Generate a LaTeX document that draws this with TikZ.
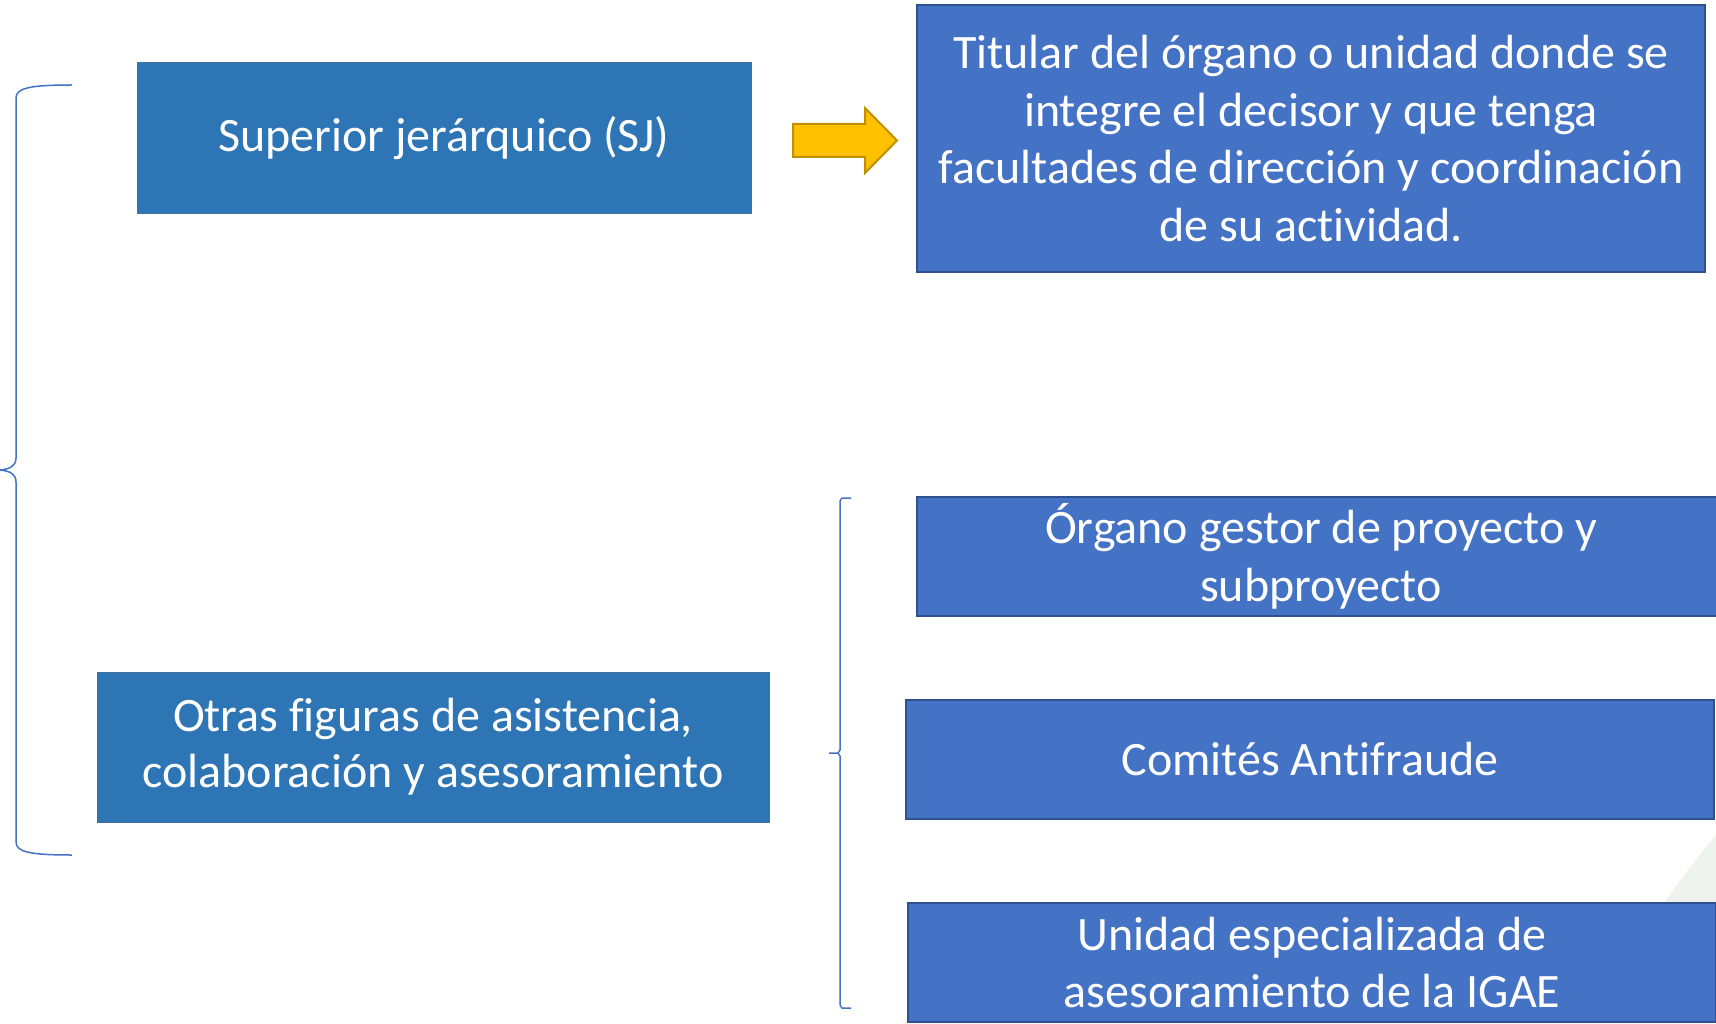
\documentclass[tikz,border=0pt]{standalone}
\usepackage{fontspec}
\setmainfont{Carlito}[Ligatures=CommonOff]
\definecolor{sjblue}{HTML}{2E75B6}
\definecolor{sjline}{HTML}{41719C}
\definecolor{boxblue}{HTML}{4472C4}
\definecolor{boxline}{HTML}{2F528F}
\definecolor{arrowfill}{HTML}{FFC000}
\definecolor{arrowline}{HTML}{BF9000}
\definecolor{bracecol}{HTML}{4472C4}
\definecolor{cornergreen}{HTML}{EEF3EF}

\tikzset{
  sjbox/.style={fill=sjblue, draw=sjline, line width=1pt, text=white,
    align=center, inner sep=0pt, font=\fontsize{48}{56}\selectfont},
  figbox/.style={fill=boxblue, draw=boxline, line width=2pt, text=white,
    align=center, inner sep=0pt, font=\fontsize{48}{57.5}\selectfont},
  bracket/.style={draw=bracecol, line width=1.5pt},
}

\begin{document}
\begin{tikzpicture}[x=1pt,y=-1pt]
\useasboundingbox (0,0) rectangle (1716,1024);
% faint corner of the slide background
\fill[cornergreen] (1716,835) .. controls (1695,860) and (1680,880) .. (1664,903) -- (1716,903) -- cycle;

% Draw the boxes
\node[sjbox, minimum width=614pt, minimum height=151pt] (sj) at (444,138.5)
  {Superior jerárquico (SJ)};
\node[figbox, minimum width=788pt, minimum height=267pt] (titular) at (1311,138.5)
  {Titular del órgano o unidad donde se\\integre el decisor y que tenga\\facultades de dirección y coordinación\\de su actividad.};
\node[sjbox, minimum width=672pt, minimum height=150pt] (otras) at (433,747)
  {Otras figuras de asistencia,\\colaboración y asesoramiento};
\node[figbox, minimum width=808pt, minimum height=119pt] (organo) at (1321,556.5)
  {Órgano gestor de proyecto y\\subproyecto};
\node[figbox, minimum width=808pt, minimum height=119pt] (comites) at (1310,759.5)
  {Comités Antifraude};
\node[figbox, minimum width=808pt, minimum height=119pt] (unidad) at (1312,962.5)
  {Unidad especializada de\\asesoramiento de la IGAE};

% Block arrow
\filldraw[fill=arrowfill, draw=arrowline, line width=2pt, line join=miter]
  (793,124) -- (865,124) -- (865,108) -- (897,140.5) -- (865,173)
  -- (865,157) -- (793,157) -- cycle;

% Big brace
\coordinate (bigtop) at (72,85);
\coordinate (bigtip) at (0,470);
\coordinate (bigbot) at (72,855);
\draw[bracket] (bigtop) .. controls (30,85) and (16,88) .. (16,98)
  -- (16,458) .. controls (16,466) and (10,469) .. (bigtip)
  .. controls (10,471) and (16,474) .. (16,482)
  -- (16,842) .. controls (16,852) and (30,855) .. (bigbot);

% Small brace
\coordinate (smalltop) at (851,498);
\coordinate (smalltip) at (829,753);
\coordinate (smallbot) at (851,1008);
\draw[bracket] (smalltop) -- (842,498) -- (840,501)
  -- (840,750) -- (838,753) -- (smalltip)
  (838,753) -- (840,756) -- (840,1005) -- (842,1008) -- (smallbot);

\end{tikzpicture}
\end{document}
